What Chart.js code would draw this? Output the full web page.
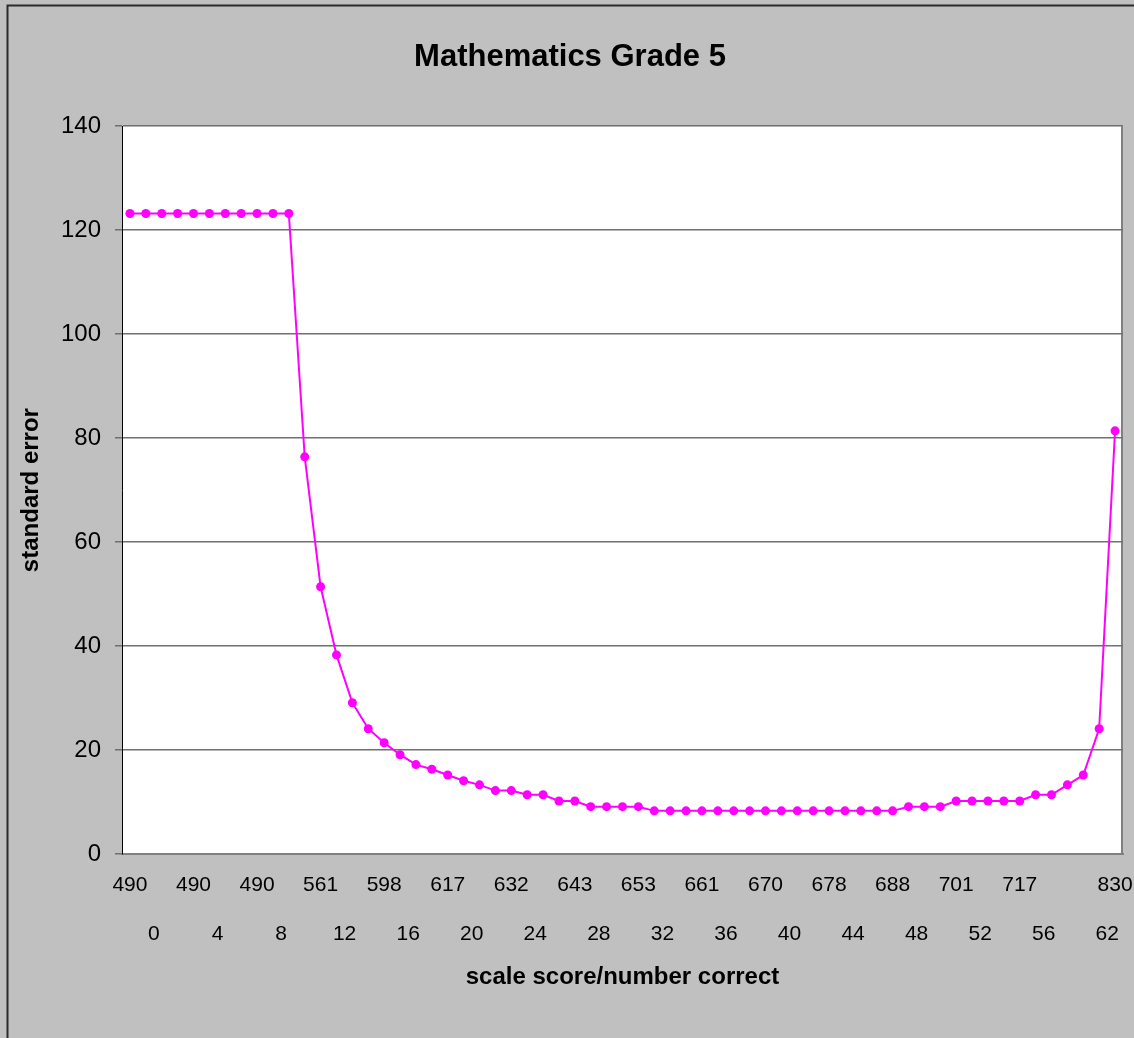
<!DOCTYPE html>
<html>
<head>
<meta charset="utf-8">
<title>Mathematics Grade 5</title>
<script src="https://cdn.jsdelivr.net/npm/chart.js@4.4.1/dist/chart.umd.min.js"></script>
<style>
    html, body { margin: 0; padding: 0; overflow: hidden; background: #c0c0c0; }
    #wrap { width: 1134px; height: 1038px; position: relative; }
</style>
</head>
<body>
<div id="wrap"><canvas id="seChart"></canvas></div>
<script>
// standard error for number correct 0..62
const standardError = [
    123.2, 123.2, 123.2, 123.2, 123.2, 123.2, 123.2, 123.2, 123.2, 123.2, 123.2,
    76.4, 51.4, 38.3, 29.1, 24.1, 21.4, 19.1, 17.2, 16.3, 15.2, 14.1, 13.3,
    12.2, 12.2, 11.4, 11.4, 10.2, 10.2, 9.1, 9.1, 9.1, 9.1,
    8.3, 8.3, 8.3, 8.3, 8.3, 8.3, 8.3, 8.3, 8.3, 8.3, 8.3, 8.3, 8.3, 8.3, 8.3, 8.3,
    9.1, 9.1, 9.1,
    10.2, 10.2, 10.2, 10.2, 10.2,
    11.4, 11.4, 13.3, 15.2, 24.1, 81.4
];

// tick labels, one every 4 categories
const scaleScoreTicks = ['490', '490', '490', '561', '598', '617', '632', '643', '653', '661', '670', '678', '688', '701', '717'];
const lastScaleScore = '830';
const numberCorrectTicks = ['0', '4', '8', '12', '16', '20', '24', '28', '32', '36', '40', '44', '48', '52', '56', '62'];

const yTicks = [0, 20, 40, 60, 80, 100, 120, 140];

const scoreLabels = standardError.map((v, i) => i % 4 === 0 ? (scaleScoreTicks[i / 4] || '') : '');
scoreLabels[standardError.length - 1] = lastScaleScore;
const correctLabels = standardError.map((v, i) => i % 4 === 0 ? (numberCorrectTicks[i / 4] || '') : '');

const FONT = "'Liberation Sans', Arial, sans-serif";

const excelFrame = {
    id: 'excelFrame',
    beforeDraw(chart) {
        const ctx = chart.ctx;
        const a = chart.chartArea;
        ctx.save();
        ctx.fillStyle = '#c0c0c0';
        ctx.fillRect(0, 0, chart.width, chart.height);
        ctx.strokeStyle = '#2b2b2b';
        ctx.lineWidth = 2;
        ctx.beginPath();
        ctx.moveTo(7.5, chart.height);
        ctx.lineTo(7.5, 5.5);
        ctx.lineTo(chart.width, 5.5);
        ctx.stroke();
        ctx.fillStyle = '#ffffff';
        ctx.fillRect(a.left, a.top, a.right - a.left, a.bottom - a.top);
        ctx.strokeStyle = '#808080';
        ctx.beginPath();
        ctx.moveTo(a.right - 1, a.top);
        ctx.lineTo(a.right - 1, a.bottom);
        ctx.stroke();
        ctx.restore();
    }
};

const ctx = document.getElementById('seChart').getContext('2d');
new Chart(ctx, {
    type: 'line',
    data: {
        labels: scoreLabels,
        datasets: [{
            label: 'standard error',
            data: standardError,
            borderColor: '#ff00ff',
            backgroundColor: '#ff00ff',
            borderWidth: 2,
            pointRadius: 4.5,
            pointBorderWidth: 0,
            pointBackgroundColor: '#ff00ff',
            tension: 0
        }]
    },
    options: {
        responsive: true,
        maintainAspectRatio: false,
        animation: false,
        layout: {
            padding: { left: 17, right: 11, top: 0, bottom: 0 }
        },
        plugins: {
            legend: { display: false },
            tooltip: { enabled: false },
            title: {
                display: true,
                text: 'Mathematics Grade 5',
                color: '#000',
                font: { family: FONT, size: 31, weight: 'bold' },
                padding: { top: 39, bottom: 50 }
            }
        },
        scales: {
            x: {
                type: 'category',
                offset: true,
                weight: 1,
                grid: { display: false, drawTicks: false },
                border: { display: true, color: '#808080', width: 2 },
                ticks: {
                    autoSkip: false,
                    maxRotation: 0,
                    minRotation: 0,
                    padding: 19,
                    color: '#000',
                    font: { family: FONT, size: 21 }
                },
                afterFit(scale) {
                    scale.height = 56;
                    scale.paddingLeft = 0;
                    scale.paddingRight = 0;
                }
            },
            x2: {
                type: 'category',
                position: 'bottom',
                labels: correctLabels,
                offset: true,
                weight: 2,
                grid: { display: false, drawTicks: false },
                border: { display: false },
                ticks: {
                    autoSkip: false,
                    maxRotation: 0,
                    minRotation: 0,
                    padding: 12,
                    labelOffset: 24,
                    color: '#000',
                    font: { family: FONT, size: 21 }
                },
                title: {
                    display: true,
                    text: 'scale score/number correct',
                    color: '#000',
                    font: { family: FONT, size: 24, weight: 'bold' },
                    padding: { top: 0, bottom: 46 }
                },
                afterFit(scale) {
                    scale.height = 128;
                    scale.paddingLeft = 0;
                    scale.paddingRight = 0;
                }
            },
            y: {
                min: 0,
                max: 140,
                afterBuildTicks(scale) {
                    scale.ticks = yTicks.map(v => ({ value: v }));
                },
                grid: {
                    color: '#707070',
                    lineWidth: 1.5,
                    drawTicks: true,
                    tickLength: 7
                },
                border: { display: true, color: '#000', width: 1 },
                ticks: {
                    padding: 14,
                    color: '#000',
                    font: { family: FONT, size: 24 }
                },
                title: {
                    display: true,
                    text: 'standard error',
                    color: '#000',
                    font: { family: FONT, size: 24, weight: 'bold' },
                    padding: { top: 0, bottom: 0 }
                },
                afterFit(scale) {
                    scale.width = 105;
                    scale.paddingTop = 0;
                    scale.paddingBottom = 0;
                }
            }
        }
    },
    plugins: [excelFrame]
});
</script>
</body>
</html>
